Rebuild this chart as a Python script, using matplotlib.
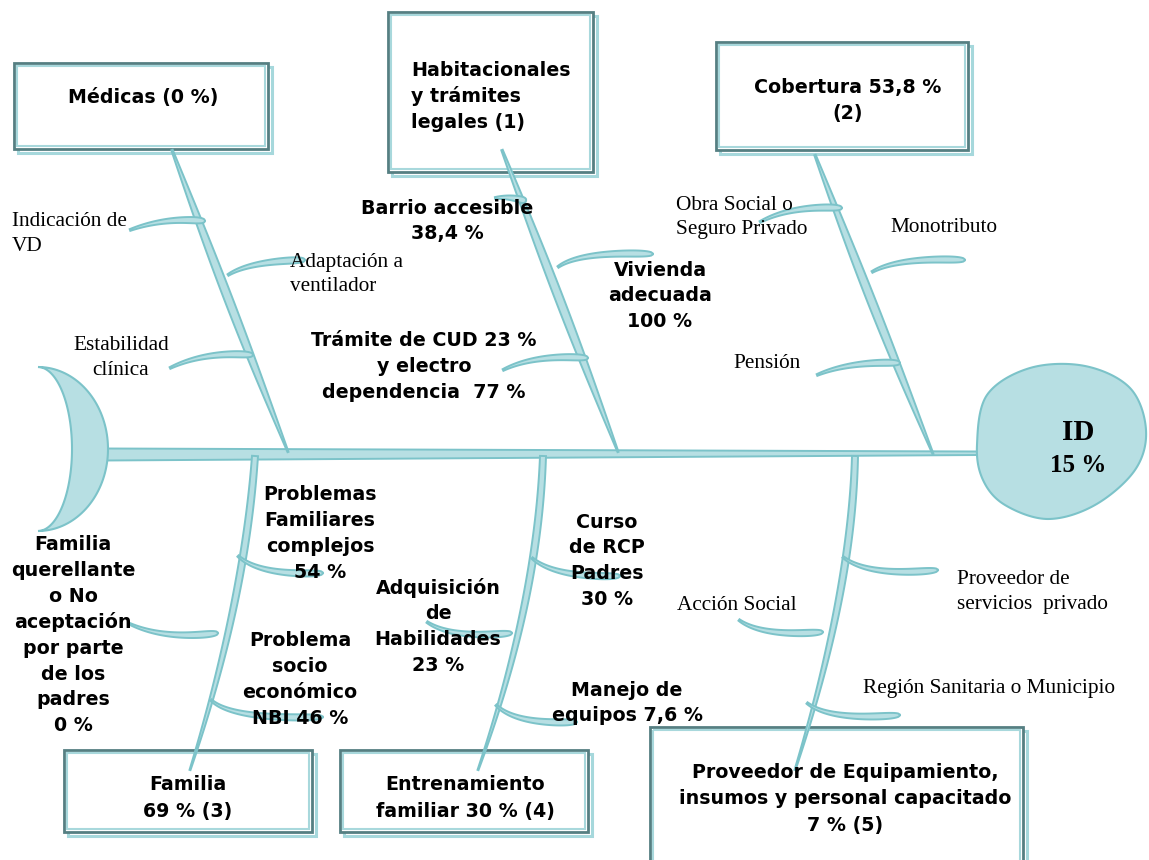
import numpy as np
import matplotlib.pyplot as plt
from matplotlib.patches import Polygon, Rectangle

# colours
FILL = '#b7dfe3'
EDGE = '#7cc3c9'
DARK = '#557f82'

# --- text content ---
box_labels = ['Médicas (0 %)', 'Habitacionales\ny trámites\nlegales (1)', 'Cobertura 53,8 %\n(2)',
              'Familia\n69 % (3)', 'Entrenamiento\nfamiliar 30 % (4)',
              'Proveedor de Equipamiento,\ninsumos y personal capacitado\n7 % (5)']
bold_labels = ['Barrio accesible\n38,4 %', 'Vivienda\nadecuada\n100 %',
               'Trámite de CUD 23 %\ny electro\ndependencia  77 %',
               'Problemas\nFamiliares\ncomplejos\n54 %',
               'Familia\nquerellante\no No\naceptación\npor parte\nde los\npadres\n0 %',
               'Problema\nsocio\neconómico\nNBI 46 %',
               'Curso\nde RCP\nPadres\n30 %', 'Adquisición\nde\nHabilidades\n23 %',
               'Manejo de\nequipos 7,6 %']
serif_labels = ['Indicación de\nVD', 'Adaptación a\nventilador', 'Estabilidad\nclínica',
                'Obra Social o\nSeguro Privado', 'Monotributo', 'Pensión',
                'Proveedor de\nservicios  privado', 'Acción Social', 'Región Sanitaria o Municipio']
head_title = 'ID'
head_value = '15 %'

# --- layout (pixel coordinates, y down) ---
box_rects = [(14, 63, 268, 149), (388, 12, 593, 172), (716, 42, 968, 150),
             (64, 750, 312, 832), (340, 750, 588, 832), (650, 727, 1023, 875)]
box_text_pos = [(143, 97, 'center'), (411, 70, 'left'), (848, 87, 'center'),
                (188, 785, 'center'), (465, 785, 'center'), (845, 773, 'center')]
bold_pos = [(447, 208), (660, 270), (424, 341), (320, 495), (73, 545),
            (300, 641), (607, 522), (438, 588), (627, 690)]
serif_pos = [(12, 222, 'left'), (290, 262, 'left'), (121, 346, 'center'),
             (676, 205, 'left'), (890, 228, 'left'), (733, 364, 'left'),
             (957, 580, 'left'), (677, 606, 'left'), (863, 689, 'left')]

# main bones: start, control, end, w start, w end, bulge
main_bones = [((172, 150), (228, 300), (288, 452), 1.5, 1, 7),
              ((502, 150), (560, 300), (618, 452), 1.5, 1, 7),
              ((815, 155), (872, 305), (933, 454), 1.5, 1, 7),
              ((255, 456), (245, 600), (190, 770), 6, 1, 2.5),
              ((543, 456), (538, 600), (478, 770), 6, 1, 2.5),
              ((855, 456), (852, 590), (795, 770), 6, 1, 2.5)]
# sub bones: left end, control, right end (thick at right)
sub_bones = [((130, 230), (165, 217), (205, 221)),
             ((228, 275), (250, 261), (305, 260)),
             ((170, 368), (205, 351), (253, 355)),
             ((495, 198), (510, 196), (526, 201)),
             ((558, 267), (580, 251), (653, 254)),
             ((503, 370), (535, 354), (588, 358)),
             ((760, 222), (792, 205), (842, 208)),
             ((872, 272), (898, 257), (965, 260)),
             ((817, 375), (850, 361), (900, 363)),
             ((238, 556), (260, 576), (323, 573)),
             ((130, 624), (165, 640), (218, 633)),
             ((211, 700), (232, 720), (323, 717)),
             ((532, 558), (555, 578), (620, 576)),
             ((427, 622), (452, 639), (512, 633)),
             ((496, 705), (516, 725), (577, 722)),
             ((843, 557), (868, 577), (938, 570)),
             ((739, 620), (762, 637), (823, 632)),
             ((807, 703), (830, 721), (900, 715))]
head_pts = [(977, 445), (987, 395), (1030, 368), (1085, 366), (1130, 388), (1146, 430),
            (1135, 470), (1095, 505), (1048, 519), (1005, 505), (983, 480)]


def bez(p0, c, p1, n=80):
    t = np.linspace(0, 1, n)[:, None]
    p0, c, p1 = np.array(p0, float), np.array(c, float), np.array(p1, float)
    return (1 - t) ** 2 * p0 + 2 * (1 - t) * t * c + t ** 2 * p1


def bone(ax, p0, c, p1, w0, w1, bulge=0.0, tip=False, z=2):
    pts = bez(p0, c, p1)
    t = np.linspace(0, 1, len(pts))
    d = np.gradient(pts, axis=0)
    nrm = np.column_stack([-d[:, 1], d[:, 0]])
    nrm /= np.linalg.norm(nrm, axis=1)[:, None]
    w = w0 + (w1 - w0) * t + bulge * np.sin(np.pi * t)
    if tip:
        w = w * np.sqrt(np.clip(1 - t ** 14, 0, 1)) + 0.8
    poly = np.vstack([pts + nrm * w[:, None] / 2, (pts - nrm * w[:, None] / 2)[::-1]])
    ax.add_patch(Polygon(poly, closed=True, fc=FILL, ec=EDGE, lw=1.4, zorder=z))


def lines(ax, x, y, text, ha, step, **kw):
    for i, s in enumerate(text.split('\n')):
        ax.text(x, y + i * step, s, ha=ha, va='center', zorder=5, **kw)


fig = plt.figure(figsize=(11.49, 8.6), dpi=100)
ax = fig.add_axes([0, 0, 1, 1])
ax.set_xlim(0, 1149)
ax.set_ylim(860, 0)
ax.axis('off')

# boxes
for (x0, y0, x1, y1), lab, (tx, ty, ha) in zip(box_rects, box_labels, box_text_pos):
    w, h = x1 - x0, y1 - y0
    ax.add_patch(Rectangle((x0 + 4, y0 + 4), w, h, fill=False, ec='#a6d8dc', lw=2.2, zorder=0.9))
    ax.add_patch(Rectangle((x0, y0), w, h, fc='white', ec=DARK, lw=2, zorder=1))
    ax.add_patch(Rectangle((x0 + 3, y0 + 3), w - 6, h - 6, fill=False, ec='#a8d8dc', lw=1.5, zorder=1.1))
    lines(ax, tx, ty, lab, ha, 26, fontsize=13.7, fontweight='bold', family='DejaVu Sans')

# spine
xs = np.linspace(105, 980, 50)
top = np.interp(xs, [105, 980], [448.5, 451.5])
bot = np.interp(xs, [105, 980], [460.5, 455])
ax.add_patch(Polygon(np.vstack([np.column_stack([xs, top]), np.column_stack([xs, bot])[::-1]]),
                     closed=True, fc=FILL, ec=EDGE, lw=1.4, zorder=2))

# tail crescent
th = np.linspace(-np.pi / 2, np.pi / 2, 80)
outer = np.column_stack([38 + 70 * np.cos(th), 449 + 82 * np.sin(th)])
inner = np.column_stack([38 + 34 * np.cos(th), 449 + 82 * np.sin(th)])
ax.add_patch(Polygon(np.vstack([outer, inner[::-1]]), closed=True, fc=FILL, ec=EDGE, lw=1.5, zorder=2.5))

# head (closed Catmull-Rom)
P = np.array(head_pts, float)
n = len(P)
curve = []
for i in range(n):
    p0, p1, p2, p3 = P[i - 1], P[i], P[(i + 1) % n], P[(i + 2) % n]
    for t in np.linspace(0, 1, 20, endpoint=False):
        curve.append(0.5 * ((2 * p1) + (-p0 + p2) * t + (2 * p0 - 5 * p1 + 4 * p2 - p3) * t ** 2
                            + (-p0 + 3 * p1 - 3 * p2 + p3) * t ** 3))
ax.add_patch(Polygon(np.array(curve), closed=True, fc=FILL, ec=EDGE, lw=1.5, zorder=2.5))
ax.text(1078, 432, head_title, ha='center', va='center', fontsize=21, fontweight='bold',
        family='Liberation Serif', zorder=5)
ax.text(1078, 466, head_value, ha='center', va='center', fontsize=18, fontweight='bold',
        family='Liberation Serif', zorder=5)

# bones
for p0, c, p1, w0, w1, bl in main_bones:
    bone(ax, p0, c, p1, w0, w1, bl)
for p0, c, p1 in sub_bones:
    bone(ax, p0, c, p1, 1.0, 6.5, tip=True)

# labels
for lab, (x, y) in zip(bold_labels, bold_pos):
    lines(ax, x, y, lab, 'center', 25.8, fontsize=13.7, fontweight='bold', family='DejaVu Sans')
for lab, (x, y, ha) in zip(serif_labels, serif_pos):
    lines(ax, x, y, lab, ha, 24.5, fontsize=15.3, family='Liberation Serif')

fig.savefig('out.png', dpi=100)
